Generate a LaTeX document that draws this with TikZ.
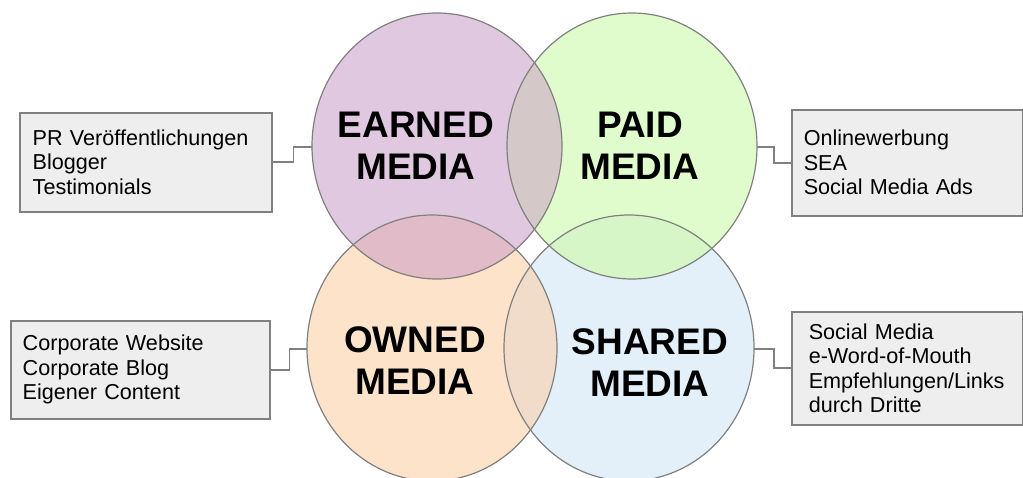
\documentclass[tikz,border=0pt]{standalone}
\usepackage{fontspec}
\setmainfont{Liberation Sans}
\definecolor{cEarned}{RGB}{225,200,225}
\definecolor{cPaid}{RGB}{224,252,204}
\definecolor{cOwned}{RGB}{253,227,201}
\definecolor{cShared}{RGB}{227,240,250}
\definecolor{cEP}{RGB}{213,200,200}
\definecolor{cEO}{RGB}{226,187,200}
\definecolor{cPS}{RGB}{214,246,200}
\definecolor{cOS}{RGB}{240,220,200}
\definecolor{lineg}{RGB}{128,128,128}
\definecolor{boxfill}{RGB}{238,238,238}
\tikzset{
  venn/.style={draw=lineg, line width=1.2pt},
  infobox/.style={draw=lineg, line width=1.5pt, fill=boxfill, anchor=north west,
    inner xsep=0pt, inner ysep=0pt, align=left,
    font=\fontsize{21.6}{24.5}\selectfont},
  title/.style={font=\fontsize{37}{42}\selectfont\bfseries, align=center},
  link/.style={draw=lineg, line width=1.8pt},
}
\begin{document}
\begin{tikzpicture}[x=1pt,y=-1pt]
\useasboundingbox (0,0) rectangle (1023,477);
\def\rx{125}\def\ry{133}
% fills
\fill[cEarned] (437,146) ellipse [x radius=\rx, y radius=\ry];
\fill[cPaid] (632,146) ellipse [x radius=\rx, y radius=\ry];
\fill[cOwned] (432,348) ellipse [x radius=\rx, y radius=\ry];
\fill[cShared] (629,348) ellipse [x radius=\rx, y radius=\ry];
\begin{scope}
  \clip (437,146) ellipse [x radius=\rx, y radius=\ry];
  \fill[cEP] (632,146) ellipse [x radius=\rx, y radius=\ry];
  \fill[cEO] (432,348) ellipse [x radius=\rx, y radius=\ry];
\end{scope}
\begin{scope}
  \clip (629,348) ellipse [x radius=\rx, y radius=\ry];
  \fill[cPS] (632,146) ellipse [x radius=\rx, y radius=\ry];
  \fill[cOS] (432,348) ellipse [x radius=\rx, y radius=\ry];
\end{scope}
% borders
\draw[venn] (437,146) ellipse [x radius=\rx, y radius=\ry];
\draw[venn] (632,146) ellipse [x radius=\rx, y radius=\ry];
\draw[venn] (432,348) ellipse [x radius=\rx, y radius=\ry];
\draw[venn] (629,348) ellipse [x radius=\rx, y radius=\ry];
% anchor coordinates on circles
\coordinate (eL) at (312,147);
\coordinate (pR) at (757,147);
\coordinate (oL) at (307,349);
\coordinate (sR) at (754,349);
% titles
\node[title] (tE) at (416,146) {EARNED\\MEDIA};
\node[title] (tP) at (640,146) {PAID\\MEDIA};
\node[title] (tO) at (415,361) {OWNED\\MEDIA};
\node[title] (tS) at (650,363) {SHARED\\MEDIA};
% boxes
\node[infobox, minimum width=252pt, minimum height=99pt, text width=252pt] (b1) at (19,112)
  {\hspace*{13pt}PR Veröffentlichungen\\\hspace*{13pt}Blogger\\\hspace*{13pt}Testimonials};
\node[infobox, minimum width=231pt, minimum height=106pt, text width=231pt] (b2) at (791,109)
  {\hspace*{12pt}Onlinewerbung\\\hspace*{12pt}SEA\\\hspace*{12pt}Social Media Ads};
\node[infobox, minimum width=259pt, minimum height=98pt, text width=259pt] (b3) at (10,320)
  {\hspace*{12pt}Corporate Website\\\hspace*{12pt}Corporate Blog\\\hspace*{12pt}Eigener Content};
\node[infobox, minimum width=231pt, minimum height=113pt, text width=231pt] (b4) at (791,311)
  {\hspace*{17pt}Social Media\\\hspace*{17pt}e-Word-of-Mouth\\\hspace*{17pt}Empfehlungen/Links\\\hspace*{17pt}durch Dritte};
% connectors
\draw[link] (b1.east) -- ++(21,0) |- (eL);
\draw[link] (pR) -- ++(17,0) |- (b2.west);
\draw[link] (b3.east) -- ++(19,0) |- (oL);
\draw[link] (sR) -- ++(20,0) |- (b4.west);
\end{tikzpicture}
\end{document}
